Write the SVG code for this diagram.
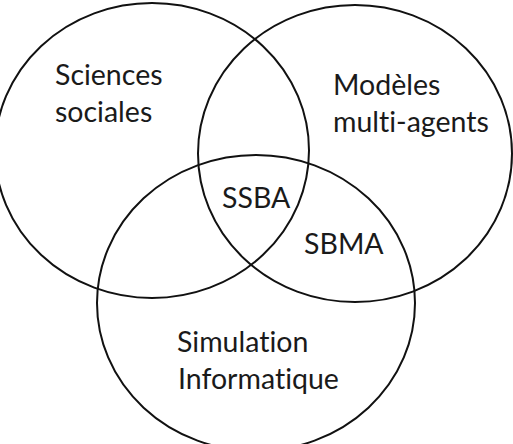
<svg xmlns="http://www.w3.org/2000/svg" width="513" height="444" viewBox="0 0 513 444">
<style>
.c{fill:none;stroke:#111;stroke-width:2}
.t{font-family:Lato,"Open Sans",sans-serif;font-size:28.5px;fill:#1a1a1a;font-variant-ligatures:none;font-feature-settings:"liga" 0,"clig" 0}
</style>
<rect width="513" height="444" fill="#fff"/>
<g id="sciences-sociales">
<ellipse class="c" cx="152" cy="150.5" rx="157" ry="147.5"/>
<text class="t" x="55" y="85">Sciences</text>
<text class="t" x="55" y="122">sociales</text>
</g>
<g id="modeles-multi-agents">
<ellipse class="c" cx="355" cy="153.5" rx="157" ry="148.5"/>
<text class="t" x="333" y="95">Modèles</text>
<text class="t" x="333" y="132">multi-agents</text>
</g>
<g id="simulation-informatique">
<ellipse class="c" cx="256" cy="303" rx="159" ry="148"/>
<text class="t" x="177" y="352">Simulation</text>
<text class="t" x="178" y="389">Informatique</text>
</g>
<g id="ssba"><text class="t" x="222" y="208">SSBA</text></g>
<g id="sbma"><text class="t" x="304" y="254">SBMA</text></g>
<g id="connectors"></g>
</svg>
